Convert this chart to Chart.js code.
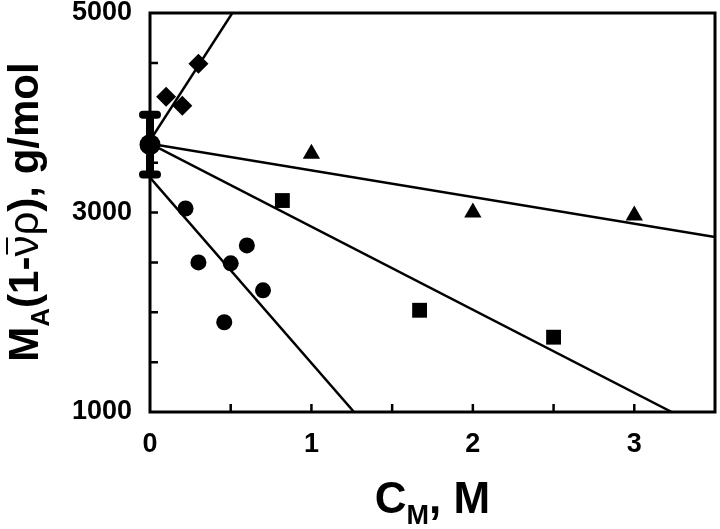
<!DOCTYPE html>
<html>
<head>
<meta charset="utf-8">
<script src="https://cdn.jsdelivr.net/npm/chart.js@4/dist/chart.umd.min.js"></script>
<style>
  body { margin: 0; background: #fff; }
  #wrap { width: 720px; height: 529px; }
</style>
</head>
<body>
<div id="wrap"><canvas id="myChart" width="720" height="529"></canvas></div>
<script>
// data
var diamondX = [0.1, 0.2, 0.3];
var diamondY = [4160, 4070, 4490];
var circleX = [0.22, 0.3, 0.46, 0.5, 0.6, 0.7];
var circleY = [3040, 2500, 1900, 2490, 2670, 2220];
var squareX = [0.82, 1.67, 2.5];
var squareY = [3120, 2020, 1750];
var triangleX = [1, 2, 3];
var triangleY = [3590, 3000, 2970];
var zeroX = [0];
var zeroY = [3680];
var zeroErr = [300];

// fitted lines, end points
var diamondFit = [[0, 3720], [0.51, 5000]];
var circleFit = [[0, 3350], [1.264, 1000]];
var squareFit = [[0, 3690], [3.232, 1000]];
var triangleFit = [[0, 3690], [3.5, 2753]];

var xTicks = ["0", "1", "2", "3"];
var yTicks = ["1000", "3000", "5000"];

function pts(xs, ys) {
  return xs.map(function (x, i) { return { x: x, y: ys[i] }; });
}
function fit(p) {
  return p.map(function (a) { return { x: a[0], y: a[1] }; });
}
function marks(data, style, r) {
  return {
    data: data, showLine: false, pointStyle: style, pointRadius: r, pointHoverRadius: r,
    backgroundColor: "#000", borderColor: "#000", borderWidth: 0, clip: false
  };
}
function fitLine(data) {
  return {
    data: data, showLine: true, pointRadius: 0, borderColor: "#000",
    borderWidth: 2.5, fill: false
  };
}

var FONT = "'Liberation Sans', Arial, sans-serif";

var decor = {
  id: "decor",
  beforeDatasetsDraw: function (chart) {
    // error bar at C=0, under the marker
    var ctx = chart.ctx, xs = chart.scales.x, ys = chart.scales.y;
    ctx.save();
    ctx.strokeStyle = "#000";
    ctx.lineCap = "round";
    ctx.lineWidth = 8;
    zeroX.forEach(function (x, i) {
      var px = xs.getPixelForValue(x);
      var top = ys.getPixelForValue(zeroY[i] + zeroErr[i]);
      var bot = ys.getPixelForValue(zeroY[i] - zeroErr[i]);
      ctx.beginPath();
      ctx.moveTo(px, top); ctx.lineTo(px, bot);
      ctx.moveTo(px - 7, top); ctx.lineTo(px + 7, top);
      ctx.moveTo(px - 7, bot); ctx.lineTo(px + 7, bot);
      ctx.stroke();
    });
    ctx.restore();
  },
  afterDatasetsDraw: function (chart) {
    var ctx = chart.ctx, a = chart.chartArea;
    var xs = chart.scales.x, ys = chart.scales.y;
    ctx.save();
    ctx.strokeStyle = "#000";
    // frame
    ctx.lineWidth = 3;
    ctx.strokeRect(a.left, a.top, a.right - a.left, a.bottom - a.top);
    // inward ticks
    ctx.lineWidth = 2.5;
    ctx.beginPath();
    for (var v = 0.5; v < 3.5; v += 0.5) {
      var px = xs.getPixelForValue(v);
      ctx.moveTo(px, a.bottom); ctx.lineTo(px, a.bottom - 8);
    }
    for (var w = 1500; w < 5000; w += 500) {
      var py = ys.getPixelForValue(w);
      ctx.moveTo(a.left, py); ctx.lineTo(a.left + 8, py);
    }
    ctx.stroke();

    ctx.fillStyle = "#000";
    ctx.textBaseline = "alphabetic";
    // x title: C_M, M
    var cx = (a.left + a.right) / 2;
    var base = 513;
    ctx.font = "bold 44px " + FONT;
    var w1 = ctx.measureText("C").width;
    var w3 = ctx.measureText(", M").width;
    ctx.font = "bold 27px " + FONT;
    var w2 = ctx.measureText("M").width;
    var x0 = cx - (w1 + w2 + w3) / 2;
    ctx.font = "bold 44px " + FONT;
    ctx.fillText("C", x0, base);
    ctx.fillText(", M", x0 + w1 + w2, base);
    ctx.font = "bold 27px " + FONT;
    ctx.fillText("M", x0 + w1, base + 11);

    // y title: M_A(1-v̄ρ), g/mol
    ctx.translate(38, 212);
    ctx.rotate(-Math.PI / 2);
    var parts = [
      ["M", "bold 42px ", 0], ["A", "bold 26px ", 11], ["(1-", "bold 42px ", 0],
      ["\u03bd", "42px ", 0], ["\u03c1", "42px ", 0], ["), g/mol", "bold 42px ", 0]
    ];
    var total = 0;
    parts.forEach(function (p) {
      ctx.font = p[1] + FONT;
      p.push(ctx.measureText(p[0]).width);
      total += p[3];
    });
    var x = -total / 2;
    parts.forEach(function (p) {
      ctx.font = p[1] + FONT;
      ctx.fillText(p[0], x, p[2]);
      if (p[0] === "\u03bd") {
        ctx.lineWidth = 2;
        ctx.beginPath();
        ctx.moveTo(x + 2, -31); ctx.lineTo(x + p[3] - 2, -31);
        ctx.stroke();
      }
      x += p[3];
    });
    ctx.restore();
  }
};

new Chart("myChart", {
  type: "scatter",
  data: {
    datasets: [
      fitLine(fit(diamondFit)),
      fitLine(fit(circleFit)),
      fitLine(fit(squareFit)),
      fitLine(fit(triangleFit)),
      marks(pts(diamondX, diamondY), "rectRot", 10),
      marks(pts(circleX, circleY), "circle", 8),
      marks(pts(squareX, squareY), "rect", 10.5),
      marks(pts(triangleX, triangleY), "triangle", 10),
      marks(pts(zeroX, zeroY), "circle", 10.5)
    ]
  },
  options: {
    responsive: false,
    animation: false,
    layout: { autoPadding: false, padding: { top: 13, right: 5, left: 0, bottom: 0 } },
    plugins: { legend: { display: false }, tooltip: { enabled: false } },
    scales: {
      x: {
        type: "linear", min: 0, max: 3.5,
        grid: { display: false, drawTicks: false }, border: { display: false },
        afterFit: function (s) { s.height = 117; s.paddingLeft = 0; s.paddingRight = 0; },
        ticks: {
          stepSize: 0.5, padding: 16, color: "#000",
          font: { family: FONT, size: 27, weight: "bold" },
          callback: function (v) { return xTicks.indexOf(String(v)) >= 0 ? String(v) : ""; }
        }
      },
      y: {
        type: "linear", min: 1000, max: 5000,
        grid: { display: false, drawTicks: false }, border: { display: false },
        afterFit: function (s) { s.width = 150; s.paddingTop = 0; s.paddingBottom = 0; },
        ticks: {
          stepSize: 500, padding: 18, color: "#000",
          font: { family: FONT, size: 27, weight: "bold" },
          callback: function (v) { return yTicks.indexOf(String(v)) >= 0 ? String(v) : ""; }
        }
      }
    }
  },
  plugins: [decor]
});
</script>
</body>
</html>
